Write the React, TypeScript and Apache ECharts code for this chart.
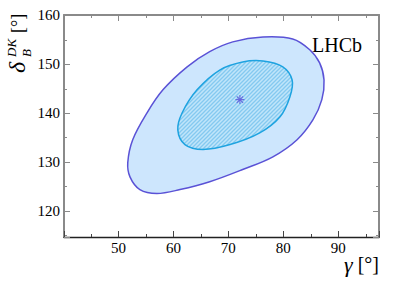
import React, { useEffect, useRef } from 'react';
import * as echarts from 'echarts';

// 95% CL (outer) and 68% CL (inner) contours in the (gamma, delta_B^DK) plane
const outerGamma = [76.3, 81.7, 84.8, 86.6, 87.4, 87.0, 85.4, 82.5, 78.1, 72.6, 66.6, 61.2, 57.0, 53.9, 52.1, 51.7, 52.6, 55.2, 58.1, 62.5, 66.6, 70.8];
const outerDelta = [155.6, 155.2, 153.0, 150.3, 146.8, 142.8, 138.7, 134.6, 131.1, 128.5, 126.0, 124.4, 123.6, 124.4, 127.0, 129.9, 134.6, 140.1, 144.8, 149.5, 152.6, 154.6];
const innerGamma = [76.3, 79.9, 81.6, 81.2, 79.4, 75.7, 70.3, 65.4, 62.1, 60.8, 61.6, 64.3, 68.5, 72.6];
const innerDelta = [150.7, 149.5, 146.8, 143.4, 139.3, 136.0, 133.6, 132.6, 133.6, 136.6, 140.1, 144.8, 148.9, 150.5];
const bestFitGamma = [72.1];
const bestFitDelta = [142.8];

const xTickLabels = [50, 60, 70, 80, 90];
const yTickLabels = [120, 130, 140, 150, 160];

const X_MIN = 40.1, X_MAX = 97.4, Y_MIN = 114.7, Y_MAX = 160.1;
const FONT = '"Liberation Serif", "Times New Roman", serif';
const FRAME = '#8a8a8a';

function makeHatch() {
  const c = document.createElement('canvas');
  c.width = 4; c.height = 4;
  const ctx = c.getContext('2d')!;
  ctx.fillStyle = '#c0e5fa';
  ctx.fillRect(0, 0, 4, 4);
  ctx.strokeStyle = '#84c9f0';
  ctx.lineWidth = 1.3;
  ctx.beginPath();
  ctx.moveTo(-1, 5); ctx.lineTo(5, -1);
  ctx.moveTo(-1, 1); ctx.lineTo(1, -1);
  ctx.moveTo(3, 5); ctx.lineTo(5, 3);
  ctx.stroke();
  return c;
}

function contourSeries(gs: number[], ds: number[], fill: any, stroke: string, z: number) {
  return {
    type: 'custom',
    xAxisIndex: 0,
    yAxisIndex: 0,
    z,
    data: gs.map((g, i) => [g, ds[i]]),
    renderItem: (params: any, api: any) => {
      if (params.dataIndex !== 0) return null;
      const pts = gs.map((g, i) => api.coord([g, ds[i]]));
      return {
        type: 'polygon',
        shape: { points: pts, smooth: 0.35 },
        style: { fill, stroke, lineWidth: 1.5 },
      };
    },
  };
}

const labelStyle = (formatter: (v: number) => string, show: boolean, margin: number) => ({
  show,
  margin,
  fontFamily: FONT,
  fontSize: 15,
  fontWeight: 'normal',
  color: '#000',
  formatter,
});

function xAxisDef(position: string, major: boolean, showLine: boolean, lineColor: string, lineWidth: number, labels: boolean) {
  return {
    type: 'value',
    position,
    min: X_MIN,
    max: X_MAX,
    splitNumber: major ? 6 : 12,
    minInterval: major ? 10 : 5,
    maxInterval: major ? 10 : 5,
    axisLine: { show: showLine, onZero: false, lineStyle: { color: lineColor, width: lineWidth } },
    axisTick: { show: true, inside: true, length: major ? 6 : 3, lineStyle: { color: position === 'bottom' ? '#444' : FRAME, width: 1 } },
    axisLabel: labelStyle((v: number) => (xTickLabels.includes(v) ? String(v) : ''), labels, 3),
    splitLine: { show: false },
  };
}

function yAxisDef(position: string, major: boolean, showLine: boolean, labels: boolean) {
  return {
    type: 'value',
    position,
    min: Y_MIN,
    max: Y_MAX,
    splitNumber: major ? 5 : 9,
    minInterval: major ? 10 : 5,
    maxInterval: major ? 10 : 5,
    axisLine: { show: showLine, onZero: false, lineStyle: { color: FRAME, width: 2 } },
    axisTick: { show: true, inside: true, length: major ? 6 : 3, lineStyle: { color: FRAME, width: 1 } },
    axisLabel: labelStyle((v: number) => (yTickLabels.includes(v) ? String(v) : ''), labels, 4),
    splitLine: { show: false },
  };
}

const starPath =
  'path://M-0.6,-5L0.6,-5L0.6,5L-0.6,5Z M-5,-0.6L5,-0.6L5,0.6L-5,0.6Z M-3.96,-3.11L-3.11,-3.96L3.96,3.11L3.11,3.96Z M3.11,-3.96L3.96,-3.11L-3.11,3.96L-3.96,3.11Z';

export default function App() {
  const ref = useRef<HTMLDivElement>(null);
  useEffect(() => {
    if (!ref.current) return;
    const chart = echarts.init(ref.current, undefined, { renderer: 'svg' });
    const hatch = { image: makeHatch(), repeat: 'repeat' };
    const txt = (text: string, x: number, y: number, size: number, italic: boolean, align = 'left') => ({
      type: 'text',
      x,
      y,
      style: {
        text,
        fontFamily: FONT,
        fontSize: size,
        fontStyle: italic ? 'italic' : 'normal',
        fill: '#000',
        align,
        textAlign: align,
        verticalAlign: 'middle',
        textVerticalAlign: 'middle',
      },
    });
    chart.setOption({
      animation: false,
      backgroundColor: '#fff',
      textStyle: { fontFamily: FONT },
      grid: { left: 64, top: 15, width: 315, height: 222, outerBoundsMode: 'none', containLabel: false },
      xAxis: [
        xAxisDef('bottom', true, true, '#222', 1.3, true),
        xAxisDef('bottom', false, false, '#222', 1.3, false),
        xAxisDef('top', true, true, FRAME, 2, false),
        xAxisDef('top', false, false, FRAME, 2, false),
      ],
      yAxis: [
        yAxisDef('left', true, true, true),
        yAxisDef('left', false, false, false),
        yAxisDef('right', true, true, false),
        yAxisDef('right', false, false, false),
      ],
      series: [
        contourSeries(outerGamma, outerDelta, '#cde6fd', '#5a52d6', 2),
        contourSeries(innerGamma, innerDelta, hatch, '#1ea3e0', 3),
        {
          type: 'scatter',
          xAxisIndex: 0,
          yAxisIndex: 0,
          z: 4,
          symbol: starPath,
          symbolSize: 9,
          itemStyle: { color: '#5a4fd8' },
          data: bestFitGamma.map((g, i) => [g, bestFitDelta[i]]),
        },
      ],
      graphic: [
        txt('LHCb', 312, 45, 20, false),
        {
          type: 'text',
          x: 379,
          y: 264,
          style: {
            text: '{i|γ} [°]',
            fontFamily: FONT,
            fontSize: 20,
            fill: '#000',
            align: 'right',
            textAlign: 'right',
            verticalAlign: 'middle',
            textVerticalAlign: 'middle',
            rich: { i: { fontFamily: FONT, fontSize: 22, fontStyle: 'italic', fill: '#000' } },
          },
        },
        {
          type: 'group',
          x: 26,
          y: 73,
          rotation: Math.PI / 2,
          children: [
            txt('δ', 0, -9, 24, true),
            txt('DK', 16, -14.5, 13, true),
            txt('B', 16, 0, 13, true),
            txt('[°]', 40, -8, 18, false),
          ],
        },
      ],
    });
    return () => chart.dispose();
  }, []);
  return <div ref={ref} style={{ position: 'fixed', left: 0, top: 0, width: 399, height: 286 }} />;
}
